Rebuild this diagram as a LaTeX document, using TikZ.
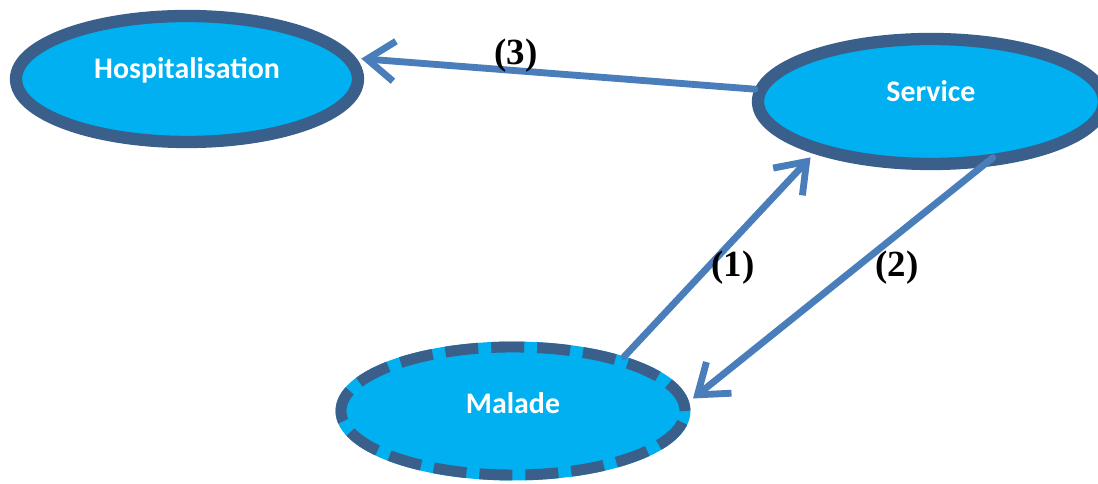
\documentclass[tikz,border=0pt]{standalone}
\usepackage{fontspec}
\setmainfont{Liberation Serif}
\newfontfamily\calibri{Carlito}
\usetikzlibrary{shapes.geometric,arrows.meta}
\definecolor{ovalfill}{HTML}{00B0F0}
\definecolor{ovalline}{HTML}{3A5F8B}
\definecolor{arrowblue}{HTML}{4A7EBB}

\begin{document}
\begin{tikzpicture}[
  oval/.style={ellipse, fill=ovalfill, draw=ovalline, line width=7pt, inner sep=0pt,
    text=white, font=\calibri\bfseries\fontsize{17}{20}\selectfont, text height=0.38cm},
  dashedoval/.style={oval, line width=6.2pt, dash pattern=on 0.66cm off 0.26cm,
    preaction={draw=ovalfill, solid}},
  flow/.style={draw=arrowblue, line width=3.9pt, line cap=round, line join=round,
    shorten >=3pt, -{Straight Barb[length=0.55cm,width=0.8cm]}},
  num/.style={font=\bfseries\fontsize{21}{24}\selectfont}
]
\useasboundingbox (0,0) rectangle (21.96,9.68);

\node[oval, minimum width=6.84cm, minimum height=2.52cm, text depth=0.4cm] (hosp) at (3.74,8.10) {Hospitalisation};
\node[oval, minimum width=6.92cm, minimum height=2.5cm, text depth=0.38cm] (serv) at (18.62,7.65) {Service};
\node[dashedoval, minimum width=6.88cm, minimum height=2.56cm, text depth=0.28cm] (mal) at (10.26,1.46) {Malade};

\draw[flow] (serv.176) -- (hosp.7);
\draw[flow] (mal.26) -- (serv.204);
\draw[flow, shorten <=-8.8pt] (serv.307) -- (mal.3);

\node[num] (n3) at (10.32,8.56) {(3)};
\node[num] (n1) at (14.66,4.32) {(1)};
\node[num] (n2) at (17.94,4.32) {(2)};
\end{tikzpicture}
\end{document}
